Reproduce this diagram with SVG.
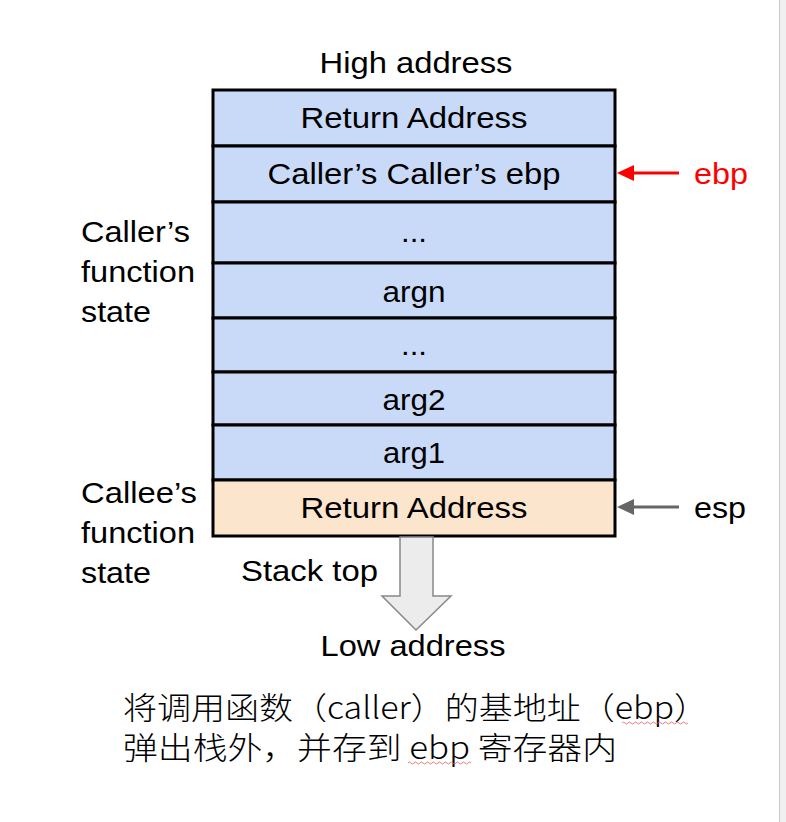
<svg xmlns="http://www.w3.org/2000/svg" width="786" height="822" viewBox="0 0 786 822">
<style>
.t{font-family:"Liberation Sans",Arial,sans-serif;font-size:29px;fill:#000}
.c{text-anchor:middle}
.blue{fill:#c9daf8;stroke:#000;stroke-width:3}
.peach{fill:#fce5cd;stroke:#000;stroke-width:3}
.cn{font-family:"Noto Sans CJK SC",sans-serif;font-size:31px;font-weight:300;fill:#000}
</style>
<rect x="0" y="0" width="786" height="822" fill="#ffffff"/>
<rect x="779" y="0" width="7" height="822" fill="#f0f0f0"/>
<line x1="779.5" y1="0" x2="779.5" y2="822" stroke="#c8c8c8" stroke-width="1"/>

<text class="t c" x="416" y="73" textLength="193" lengthAdjust="spacingAndGlyphs">High address</text>

<g id="stack">
<g id="n1"><rect class="blue" x="213" y="90" width="402" height="56"/><text class="t c" x="414" y="128" textLength="227" lengthAdjust="spacingAndGlyphs">Return Address</text></g>
<g id="n2"><rect class="blue" x="213" y="146" width="402" height="56"/><text class="t c" x="414" y="184" textLength="293" lengthAdjust="spacingAndGlyphs">Caller’s Caller’s ebp</text></g>
<g id="n3"><rect class="blue" x="213" y="202" width="402" height="61"/><text class="t c" x="414" y="242" textLength="26" lengthAdjust="spacingAndGlyphs">...</text></g>
<g id="n4"><rect class="blue" x="213" y="263" width="402" height="55"/><text class="t c" x="414" y="302" textLength="63" lengthAdjust="spacingAndGlyphs">argn</text></g>
<g id="n5"><rect class="blue" x="213" y="318" width="402" height="54"/><text class="t c" x="414" y="355" textLength="26" lengthAdjust="spacingAndGlyphs">...</text></g>
<g id="n6"><rect class="blue" x="213" y="372" width="402" height="53"/><text class="t c" x="414" y="410" textLength="63" lengthAdjust="spacingAndGlyphs">arg2</text></g>
<g id="n7"><rect class="blue" x="213" y="425" width="402" height="55"/><text class="t c" x="414" y="463" textLength="62" lengthAdjust="spacingAndGlyphs">arg1</text></g>
<g id="n8"><rect class="peach" x="213" y="480" width="402" height="56"/><text class="t c" x="414" y="518" textLength="227" lengthAdjust="spacingAndGlyphs">Return Address</text></g>
</g>

<g id="labels">
<text class="t" x="81" y="242" textLength="109" lengthAdjust="spacingAndGlyphs">Caller’s</text>
<text class="t" x="81" y="282" textLength="114" lengthAdjust="spacingAndGlyphs">function</text>
<text class="t" x="81" y="322" textLength="70" lengthAdjust="spacingAndGlyphs">state</text>
<text class="t" x="81" y="503" textLength="116" lengthAdjust="spacingAndGlyphs">Callee’s</text>
<text class="t" x="81" y="543" textLength="114" lengthAdjust="spacingAndGlyphs">function</text>
<text class="t" x="81" y="583" textLength="70" lengthAdjust="spacingAndGlyphs">state</text>
<text class="t" x="241" y="581" textLength="137" lengthAdjust="spacingAndGlyphs">Stack top</text>
<text class="t c" x="413" y="656" textLength="185" lengthAdjust="spacingAndGlyphs">Low address</text>
<text class="t" x="694" y="184" textLength="54" lengthAdjust="spacingAndGlyphs" style="fill:#ff0000">ebp</text>
<text class="t" x="694" y="518" textLength="52" lengthAdjust="spacingAndGlyphs">esp</text>
</g>

<g id="connectors">
<line x1="679" y1="173" x2="628" y2="173" stroke="#ff0000" stroke-width="3"/>
<path d="M617,173 L634,165 L634,181 Z" fill="#ff0000"/>
<line x1="679" y1="507" x2="628" y2="507" stroke="#666666" stroke-width="3"/>
<path d="M617,507 L634,499 L634,515 Z" fill="#666666"/>
<path d="M400,537 L433,537 L433,596 L451,596 L416,630 L382,596 L400,596 Z" fill="#ececec" stroke="#888888" stroke-width="1.5"/>
</g>

<g id="caption">
<text class="cn" x="123" y="719" textLength="585" lengthAdjust="spacingAndGlyphs">将调用函数（caller）的基地址（ebp）</text>
<text class="cn" x="123" y="759" textLength="494" lengthAdjust="spacingAndGlyphs">弹出栈外，并存到 ebp 寄存器内</text>
<path d="M622,723 q1.5,-2 3,0 t3,0 t3,0 t3,0 t3,0 t3,0 t3,0 t3,0 t3,0 t3,0 t3,0 t3,0 t3,0 t3,0 t3,0 t3,0 t3,0 t3,0 t3,0 t3,0 t3,0 t3,0" fill="none" stroke="#e06060" stroke-width="0.8"/>
<path d="M408,763 q1.5,-2 3,0 t3,0 t3,0 t3,0 t3,0 t3,0 t3,0 t3,0 t3,0 t3,0 t3,0 t3,0 t3,0 t3,0 t3,0 t3,0 t3,0 t3,0 t3,0 t3,0 t3,0" fill="none" stroke="#e06060" stroke-width="0.8"/>
</g>
</svg>
